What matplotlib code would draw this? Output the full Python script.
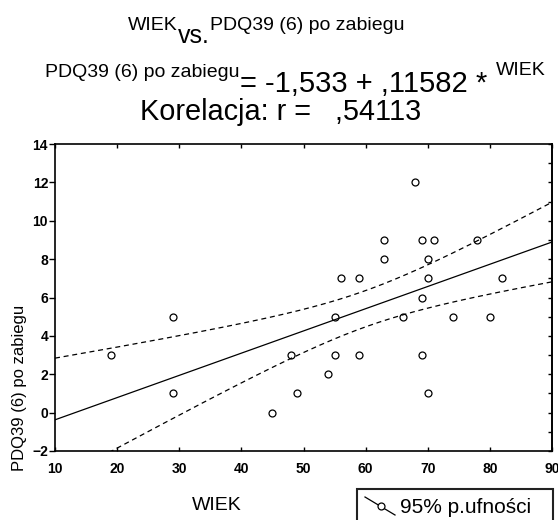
import numpy as np
import matplotlib
matplotlib.use("Agg")
import matplotlib.pyplot as plt
from matplotlib.lines import Line2D
from matplotlib.patches import Rectangle

plt.rcParams['font.family'] = ['Liberation Sans', 'DejaVu Sans']

# data
wiek = [19, 29, 29, 45, 48, 49, 54, 55, 55, 56, 59, 59, 63, 63, 66, 68,
        69, 69, 69, 70, 70, 70, 71, 74, 78, 80, 82]
pdq = [3, 5, 1, 0, 3, 1, 2, 5, 3, 7, 7, 3, 9, 8, 5, 12,
       9, 6, 3, 8, 7, 1, 9, 5, 9, 5, 7]
intercept = -1.533
slope = 0.11582
s_resid = 2.385   # estimated from the band width in the picture
t_crit = 2.0595   # 95%, df = n - 2

x = np.array(wiek, dtype=float)
y = np.array(pdq, dtype=float)
n = len(x)

W, H = 558, 520
fig = plt.figure(figsize=(W / 100, H / 100), dpi=100)
renderer = fig.canvas.get_renderer()

def fx(px):
    return px / W

def fy(py):
    return 1 - py / H

# put text pieces one after another on a line (pixel coords from top-left)
def chain(pieces, x0):
    xpos = x0
    for txt, size, base, gap in pieces:
        t = fig.text(fx(xpos), fy(base), txt, fontsize=size, va='baseline')
        xpos += t.get_window_extent(renderer=renderer).width + gap

ax = fig.add_axes([fx(55), fy(451), fx(552) - fx(55), fy(144) - fy(451)])

# regression line + 95% confidence band
xs = np.linspace(10, 90, 300)
yfit = intercept + slope * xs
sxx = np.sum((x - x.mean()) ** 2)
half = t_crit * s_resid * np.sqrt(1 / n + (xs - x.mean()) ** 2 / sxx)

ax.plot(xs, yfit, color='black', lw=0.9)
ax.plot(xs, yfit + half, color='black', lw=0.9, ls=(0, (4, 3)))
ax.plot(xs, yfit - half, color='black', lw=0.9, ls=(0, (4, 3)))
ax.plot(x, y, 'o', mfc='none', mec='black', ms=5, mew=0.9)

ax.set_xlim(10, 90)
ax.set_ylim(-2, 14)
ax.set_xticks(range(10, 91, 10))
ax.set_yticks(range(-2, 15, 2))
for lab in ax.get_xticklabels() + ax.get_yticklabels():
    lab.set_fontweight('bold')
    lab.set_fontsize(10)
for sp in ax.spines.values():
    sp.set_linewidth(1.2)

ax.tick_params(axis='y', which='major', direction='out', left=True, right=False,
               length=4, width=1, pad=1)
ax.tick_params(axis='x', which='major', direction='in', top=True, bottom=True,
               length=3, width=1, pad=8)
# right axis ticks every 1 unit
axr = ax.secondary_yaxis('right')
axr.set_yticks(range(-2, 15, 1))
axr.tick_params(direction='in', length=3, width=1, labelright=False)
axr.spines['right'].set_linewidth(1.2)

# titles
chain([('WIEK', 14, 30, 0),
       ('vs.', 18, 43, 0),
       ('PDQ39 (6) po zabiegu', 14, 30, 0)], 128)
chain([('PDQ39 (6) po zabiegu', 14, 77, 0),
       ('= -1,533 + ,11582 *', 21, 92, 9),
       ('WIEK', 14, 75, 0)], 45)
fig.text(fx(140), fy(120), 'Korelacja: r =   ,54113', fontsize=20.8, va='baseline')

# axis labels
fig.text(fx(20), fy(388), 'PDQ39 (6) po zabiegu', fontsize=12, rotation=90,
         ha='center', va='center')
fig.text(fx(217), fy(506), 'WIEK', fontsize=14, ha='center', va='center')

# legend box
fig.add_artist(Rectangle((fx(357), fy(530)), fx(553) - fx(357), fy(489) - fy(530),
                         transform=fig.transFigure, fill=False, lw=1.5,
                         edgecolor='#222222'))
fig.add_artist(Line2D([fx(365), fx(395)], [fy(497), fy(515)],
                      transform=fig.transFigure, color='black', lw=0.9))
fig.add_artist(Line2D([fx(381)], [fy(506)], transform=fig.transFigure,
                      marker='o', mfc='white', mec='black', ms=5, mew=0.9))
fig.text(fx(400), fy(513), '95% p.ufności', fontsize=15, va='baseline')

fig.savefig('out.png', dpi=100)
